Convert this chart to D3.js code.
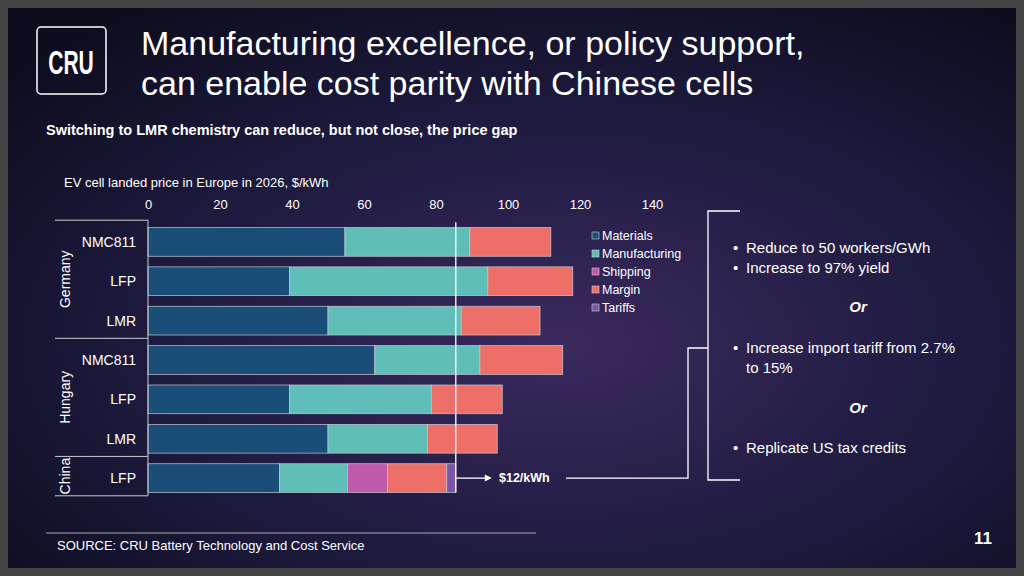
<!DOCTYPE html>
<html><head><meta charset="utf-8">
<script src="https://cdn.jsdelivr.net/npm/d3@7"></script>
<style>body{margin:0;background:#3a3a3a}svg{display:block;font-family:"Liberation Sans",Arial,sans-serif}</style>
</head><body><svg id="c" width="1024" height="576"></svg>
<script>
var rows = ['NMC811', 'LFP', 'LMR', 'NMC811', 'LFP', 'LMR', 'LFP'];
var countries = [{name: 'Germany', n: 3}, {name: 'Hungary', n: 3}, {name: 'China', n: 1}];
var seriesNames = ['Materials', 'Manufacturing', 'Shipping', 'Margin', 'Tariffs'];
var colors = ['#1a4d78', '#5fbfb8', '#c05aab', '#ee6f68', '#7a55a8'];
var materials = [54.7, 39.3, 50, 63, 39.3, 50, 36.5];
var manufacturing = [34.7, 55.1, 37, 29.2, 39.4, 27.6, 18.9];
var shipping = [0, 0, 0, 0, 0, 0, 11.1];
var margin = [22.5, 23.6, 21.9, 23, 19.7, 19.4, 16.5];
var tariffs = [0, 0, 0, 0, 0, 0, 2.5];
var ticks = [0, 20, 40, 60, 80, 100, 120, 140];
var chinaTotal = 85.5;

var svg = d3.select('#c');
var defs = svg.append('defs');
var g1 = defs.append('radialGradient').attr('id', 'bg').attr('cx', '55%').attr('cy', '60%').attr('r', '75%');
g1.append('stop').attr('offset', '0%').attr('stop-color', '#3a2a5e');
g1.append('stop').attr('offset', '55%').attr('stop-color', '#1d1a3e');
g1.append('stop').attr('offset', '100%').attr('stop-color', '#0c0c1c');
svg.append('rect').attr('width', 1024).attr('height', 576).attr('fill', '#444');
svg.append('rect').attr('x', 8).attr('y', 8).attr('width', 1008).attr('height', 560).attr('fill', 'url(#bg)');

// header
svg.append('rect').attr('x', 37).attr('y', 27).attr('width', 69).attr('height', 67).attr('rx', 4)
  .attr('fill', 'none').attr('stroke', '#fff').attr('stroke-width', 1.5);
svg.append('text').attr('x', 0).attr('y', 0).attr('text-anchor', 'middle').attr('fill', '#fff')
  .attr('font-size', 34).attr('font-weight', 'bold').attr('transform', 'translate(71,74) scale(0.62,1)').text('CRU');
svg.append('text').attr('x', 141).attr('y', 55).attr('fill', '#fff').attr('font-size', 34).text('Manufacturing excellence, or policy support,');
svg.append('text').attr('x', 141).attr('y', 95).attr('fill', '#fff').attr('font-size', 34).text('can enable cost parity with Chinese cells');
svg.append('text').attr('x', 46).attr('y', 135).attr('fill', '#fff').attr('font-size', 14.5).attr('font-weight', 'bold')
  .text('Switching to LMR chemistry can reduce, but not close, the price gap');
svg.append('text').attr('x', 64).attr('y', 187).attr('fill', '#fff').attr('font-size', 13).text('EV cell landed price in Europe in 2026, $/kWh');

var x = d3.scaleLinear().domain([0, 140]).range([148, 652]);
var y = d3.scaleBand().domain(d3.range(rows.length)).range([222, 498]).paddingInner(0.27).paddingOuter(0.14);

svg.append('g').attr('transform', 'translate(0,209)')
  .call(d3.axisTop(x).tickValues(ticks).tickSize(0).tickPadding(0))
  .call(function(a) { a.select('.domain').remove(); a.selectAll('text').attr('fill', '#fff').attr('font-size', 13).attr('font-family', 'Liberation Sans, Arial'); });

var data = rows.map(function(r, i) {
  return {Materials: materials[i], Manufacturing: manufacturing[i], Shipping: shipping[i], Margin: margin[i], Tariffs: tariffs[i]};
});
var stack = d3.stack().keys(seriesNames)(data);
svg.append('g').selectAll('g').data(stack).enter().append('g')
  .attr('fill', function(d, i) { return colors[i]; })
  .selectAll('rect').data(function(d) { return d; }).enter().append('rect')
  .attr('x', function(d) { return x(d[0]); })
  .attr('width', function(d) { return x(d[1]) - x(d[0]); })
  .attr('y', function(d, i) { return y(i); })
  .attr('height', y.bandwidth())
  .attr('stroke', '#c8c8d0').attr('stroke-width', 0.7);

// row labels
svg.append('g').selectAll('text').data(rows).enter().append('text')
  .attr('x', 136).attr('y', function(d, i) { return y(i) + y.bandwidth() / 2 + 5; })
  .attr('text-anchor', 'end').attr('fill', '#fff').attr('font-size', 14).text(function(d) { return d; });

// country grouping
var step = y.step();
var top0 = y(0) - step * y.paddingInner() / 2 - 2;
var start = 0;
countries.forEach(function(c) {
  var y0 = top0 + start * step, y1 = top0 + (start + c.n) * step;
  svg.append('line').attr('x1', 55).attr('x2', 148).attr('y1', y0).attr('y2', y0).attr('stroke', '#ccc');
  svg.append('text').attr('transform', 'translate(70,' + ((y0 + y1) / 2) + ') rotate(-90)')
    .attr('text-anchor', 'middle').attr('fill', '#fff').attr('font-size', 14).text(c.name);
  start += c.n;
});
var yEnd = top0 + rows.length * step;
svg.append('line').attr('x1', 55).attr('x2', 148).attr('y1', yEnd).attr('y2', yEnd).attr('stroke', '#ccc');
svg.append('line').attr('x1', 148).attr('x2', 148).attr('y1', top0).attr('y2', yEnd).attr('stroke', '#ccc');

// China reference line
svg.append('line').attr('x1', x(chinaTotal)).attr('x2', x(chinaTotal)).attr('y1', top0 + 2).attr('y2', y(6) + y.bandwidth())
  .attr('stroke', '#fff').attr('stroke-width', 1.3);

// arrow and label
var cy = y(6) + y.bandwidth() / 2;
svg.append('line').attr('x1', x(chinaTotal)).attr('x2', x(chinaTotal) + 30).attr('y1', cy).attr('y2', cy).attr('stroke', '#fff').attr('stroke-width', 1.3);
svg.append('path').attr('d', 'M' + (x(chinaTotal) + 36) + ',' + cy + ' l-7,-3.5 l0,7 z').attr('fill', '#fff');
svg.append('text').attr('x', 499).attr('y', cy + 4).attr('fill', '#fff').attr('font-size', 12.5).attr('font-weight', 'bold').text('$12/kWh');
svg.append('polyline').attr('points', [[566, cy], [688, cy], [688, 348], [708, 348]].join(' '))
  .attr('fill', 'none').attr('stroke', '#fff').attr('stroke-width', 1.3);
svg.append('polyline').attr('points', '740,211 708,211 708,480 740,480')
  .attr('fill', 'none').attr('stroke', '#fff').attr('stroke-width', 1.3);

// legend
var lg = svg.append('g').selectAll('g').data(seriesNames).enter().append('g')
  .attr('transform', function(d, i) { return 'translate(592,' + (232 + i * 18) + ')'; });
lg.append('rect').attr('width', 7).attr('height', 7).attr('fill', function(d, i) { return colors[i]; }).attr('stroke', '#ccc').attr('stroke-width', 0.6);
lg.append('text').attr('x', 10).attr('y', 8).attr('fill', '#fff').attr('font-size', 12.5).text(function(d) { return d; });

// bullets
var bullets = [
  {t: '\u2022', x: 733, y: 253}, {t: 'Reduce to 50 workers/GWh', x: 746, y: 253},
  {t: '\u2022', x: 733, y: 273}, {t: 'Increase to 97% yield', x: 746, y: 273},
  {t: 'Or', x: 858, y: 312, it: true},
  {t: '\u2022', x: 733, y: 353}, {t: 'Increase import tariff from 2.7%', x: 746, y: 353},
  {t: 'to 15%', x: 746, y: 373},
  {t: 'Or', x: 858, y: 413, it: true},
  {t: '\u2022', x: 733, y: 453}, {t: 'Replicate US tax credits', x: 746, y: 453}
];
svg.append('g').selectAll('text').data(bullets).enter().append('text')
  .attr('x', function(d) { return d.x; })
  .attr('y', function(d) { return d.y; })
  .attr('text-anchor', function(d) { return d.it ? 'middle' : 'start'; })
  .attr('fill', '#fff').attr('font-size', 15)
  .attr('font-style', function(d) { return d.it ? 'italic' : 'normal'; })
  .attr('font-weight', function(d) { return d.it ? 'bold' : 'normal'; })
  .text(function(d) { return d.t; });

// footer
svg.append('line').attr('x1', 46).attr('x2', 536).attr('y1', 533).attr('y2', 533).attr('stroke', '#aaa');
svg.append('text').attr('x', 57).attr('y', 550).attr('fill', '#fff').attr('font-size', 13).text('SOURCE: CRU Battery Technology and Cost Service');
svg.append('text').attr('x', 983).attr('y', 544).attr('text-anchor', 'middle').attr('fill', '#fff').attr('font-size', 17).attr('font-weight', 'bold').text('11');
</script></body></html>
